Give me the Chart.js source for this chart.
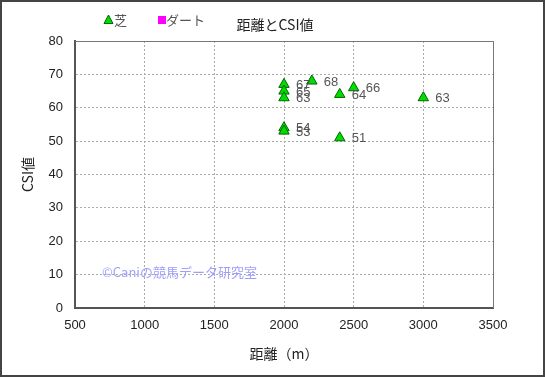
<!DOCTYPE html>
<html>
<head>
<meta charset="utf-8">
<script src="https://cdn.jsdelivr.net/npm/chart.js@4.4.1/dist/chart.umd.min.js"></script>
<style>
  body { margin: 0; background: #fff; }
  canvas { display: block; }
</style>
</head>
<body>
<canvas id="c" width="545" height="377"></canvas>
<script>
// 距離とCSI値
const turfDistance = [2000, 2000, 2000, 2000, 2000, 2200, 2400, 2400, 2500, 3000];
const turfCsi = [67, 65, 63, 54, 53, 68, 64, 51, 66, 63];
const dirtDistance = [];
const dirtCsi = [];
const xTicks = [500, 1000, 1500, 2000, 2500, 3000, 3500];
const yTicks = [0, 10, 20, 30, 40, 50, 60, 70, 80];

const jpFont = '"Noto Sans CJK JP", "Liberation Sans", sans-serif';
const numFont = '"Liberation Sans", Arial, sans-serif';

// 枠・凡例・タイトル・値ラベル・透かし
const decoPlugin = {
    id: 'deco',
    beforeDraw(chart) {
        const ctx = chart.ctx;
        ctx.save();
        ctx.fillStyle = '#fff';
        ctx.fillRect(0, 0, chart.width, chart.height);
        ctx.restore();
    },
    afterDatasetsDraw(chart) {
        const ctx = chart.ctx;
        const a = chart.chartArea;
        ctx.save();
        // プロットエリアの上・右の枠
        ctx.strokeStyle = '#777';
        ctx.lineWidth = 1;
        ctx.beginPath();
        ctx.moveTo(a.left, a.top + 0.5);
        ctx.lineTo(a.right + 0.5, a.top + 0.5);
        ctx.lineTo(a.right + 0.5, a.bottom);
        ctx.stroke();

        // 値ラベル
        ctx.font = '13px ' + numFont;
        ctx.fillStyle = '#555';
        ctx.textAlign = 'left';
        ctx.textBaseline = 'middle';
        chart.data.datasets.forEach((ds, i) => {
            chart.getDatasetMeta(i).data.forEach((pt, j) => {
                ctx.fillText(String(ds.data[j].y), pt.x + 12, pt.y + 1);
            });
        });

        // 透かし
        ctx.font = '13px ' + jpFont;
        ctx.fillStyle = '#9f9fff';
        ctx.textBaseline = 'middle';
        ctx.fillText('©Caniの競馬データ研究室', 102, 272);

        // タイトル
        ctx.font = '14px ' + jpFont;
        ctx.fillStyle = '#222';
        ctx.textAlign = 'center';
        ctx.fillText('距離とCSI値', 275, 25);

        // 凡例
        ctx.font = '13px ' + jpFont;
        ctx.textAlign = 'left';
        const t = chart.data.datasets[0];
        ctx.fillStyle = t.backgroundColor;
        ctx.strokeStyle = t.borderColor;
        ctx.lineWidth = 1;
        ctx.beginPath();
        ctx.moveTo(108.5, 15);
        ctx.lineTo(113, 23.5);
        ctx.lineTo(104, 23.5);
        ctx.closePath();
        ctx.fill();
        ctx.stroke();
        ctx.fillStyle = '#555';
        ctx.fillText(t.label, 114, 20);
        const d = chart.data.datasets[1];
        ctx.fillStyle = d.backgroundColor;
        ctx.fillRect(158, 16, 8, 8);
        ctx.fillStyle = '#555';
        ctx.fillText(d.label, 166, 20);

        // 外枠
        ctx.strokeStyle = '#444';
        ctx.lineWidth = 2;
        ctx.strokeRect(1, 1, chart.width - 2, chart.height - 2);
        ctx.restore();
    }
};

new Chart(document.getElementById('c'), {
    type: 'scatter',
    data: {
        datasets: [{
            label: '芝',
            data: turfDistance.map((x, i) => ({ x: x, y: turfCsi[i] })),
            pointStyle: 'triangle',
            pointRadius: 6,
            backgroundColor: '#00dd00',
            borderColor: '#006600',
            borderWidth: 1
        }, {
            label: 'ダート',
            data: dirtDistance.map((x, i) => ({ x: x, y: dirtCsi[i] })),
            pointStyle: 'rect',
            pointRadius: 5,
            backgroundColor: '#ff00ff',
            borderColor: '#ff00ff'
        }]
    },
    options: {
        responsive: false,
        animation: false,
        layout: { padding: { top: 41, right: 52, bottom: 10, left: 0 } },
        plugins: {
            legend: { display: false },
            title: { display: false },
            tooltip: { enabled: false }
        },
        scales: {
            x: {
                type: 'linear',
                min: 500,
                max: 3500,
                afterBuildTicks: s => { s.ticks = xTicks.map(v => ({ value: v })); },
                afterFit: s => { s.height = 59; },
                grid: { color: '#aaa', drawTicks: false },
                border: { color: '#555', width: 2, dash: [2, 2] },
                ticks: {
                    padding: 10,
                    color: '#222',
                    font: { family: numFont, size: 13 },
                    callback: v => String(v)
                },
                title: {
                    display: true,
                    text: '距離（m）',
                    color: '#222',
                    font: { family: jpFont, size: 14 },
                    padding: { top: 0, bottom: 5 }
                }
            },
            y: {
                min: 0,
                max: 80,
                afterBuildTicks: s => { s.ticks = yTicks.map(v => ({ value: v })); },
                afterFit: s => { s.width = 75; },
                grid: { color: '#aaa', drawTicks: false },
                border: { color: '#555', width: 2, dash: [2, 2] },
                ticks: {
                    padding: 12,
                    color: '#222',
                    font: { family: numFont, size: 13 },
                    callback: v => String(v)
                },
                title: {
                    display: true,
                    text: 'CSI値',
                    color: '#222',
                    font: { family: jpFont, size: 14 },
                    padding: { top: 19, bottom: 0 }
                }
            }
        }
    },
    plugins: [decoPlugin]
});
</script>
</body>
</html>
